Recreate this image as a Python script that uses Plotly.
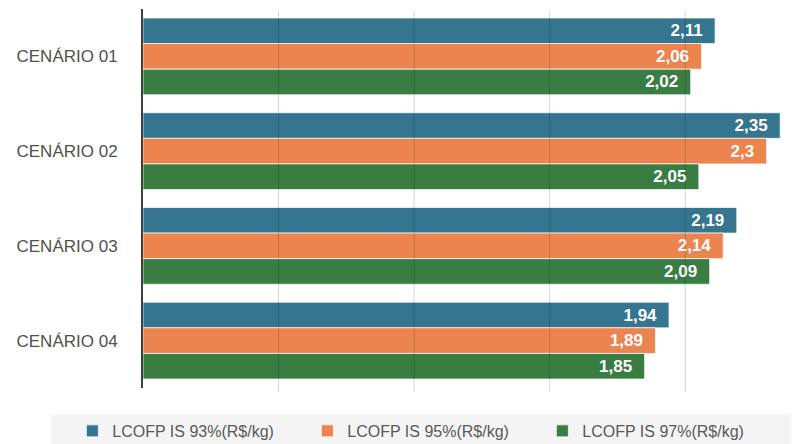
import plotly.graph_objects as go

categories = ["CENÁRIO 01", "CENÁRIO 02", "CENÁRIO 03", "CENÁRIO 04"]
series_names = ["LCOFP IS 93%(R$/kg)", "LCOFP IS 95%(R$/kg)", "LCOFP IS 97%(R$/kg)"]
is93 = [2.11, 2.35, 2.19, 1.94]
is95 = [2.06, 2.30, 2.14, 1.89]
is97 = [2.02, 2.05, 2.09, 1.85]
grid_ticks = [0.5, 1.0, 1.5, 2.0]

colors = ["#35758f", "#eb844f", "#3a7d43"]
FONT = "Liberation Sans, Arial, sans-serif"

def fmt(v):
    s = f"{v:.2f}".rstrip("0").rstrip(".")
    return s.replace(".", ",") + "\u00a0\u00a0"

fig = go.Figure()
for name, vals, c in zip(series_names, [is93, is95, is97], colors):
    fig.add_trace(go.Bar(
        y=categories, x=vals, name=name, orientation="h",
        marker=dict(color=c, line=dict(color="rgba(255,255,255,0.7)", width=1)),
        text=[fmt(v) for v in vals], textposition="inside", insidetextanchor="end",
        constraintext="none",
        textfont=dict(color="white", size=17, family=FONT, weight="bold"),
        cliponaxis=False,
    ))

shapes = []
for t in grid_ticks:
    shapes.append(dict(type="line", xref="x", yref="paper", x0=t, x1=t, y0=-0.01, y1=0.995,
                       line=dict(color="rgba(0,0,0,0.17)", width=1), layer="above"))
shapes.append(dict(type="rect", xref="paper", yref="paper", x0=-0.142, x1=1.0, y0=-0.069, y1=-0.15,
                   fillcolor="#f4f4f4", line=dict(width=0), layer="below"))

fig.update_layout(
    width=806, height=444,
    margin=dict(l=143, r=15, t=9, b=56, autoexpand=False),
    paper_bgcolor="white", plot_bgcolor="white",
    barmode="group", bargap=0.19, bargroupgap=0,
    font=dict(family=FONT, color="#595959", size=16),
    xaxis=dict(range=[0, 2.39], showgrid=False, showticklabels=False, zeroline=False,
               showline=False, ticks=""),
    yaxis=dict(autorange="reversed", showline=True, linecolor="#404040", linewidth=2,
               ticks="", ticklabelstandoff=20, automargin=False,
               tickfont=dict(size=17, color="#505050")),
    showlegend=True,
    legend=dict(orientation="h", x=-0.109, xanchor="left", y=-0.0685, yanchor="top",
                bgcolor="rgba(0,0,0,0)", font=dict(size=16, color="#595959"),
                entrywidth=190, entrywidthmode="pixels", traceorder="normal",
                itemwidth=30),
    shapes=shapes,
)

fig.write_html("out.html", config={"displayModeBar": False},
               post_script="document.body.style.margin='0';")
